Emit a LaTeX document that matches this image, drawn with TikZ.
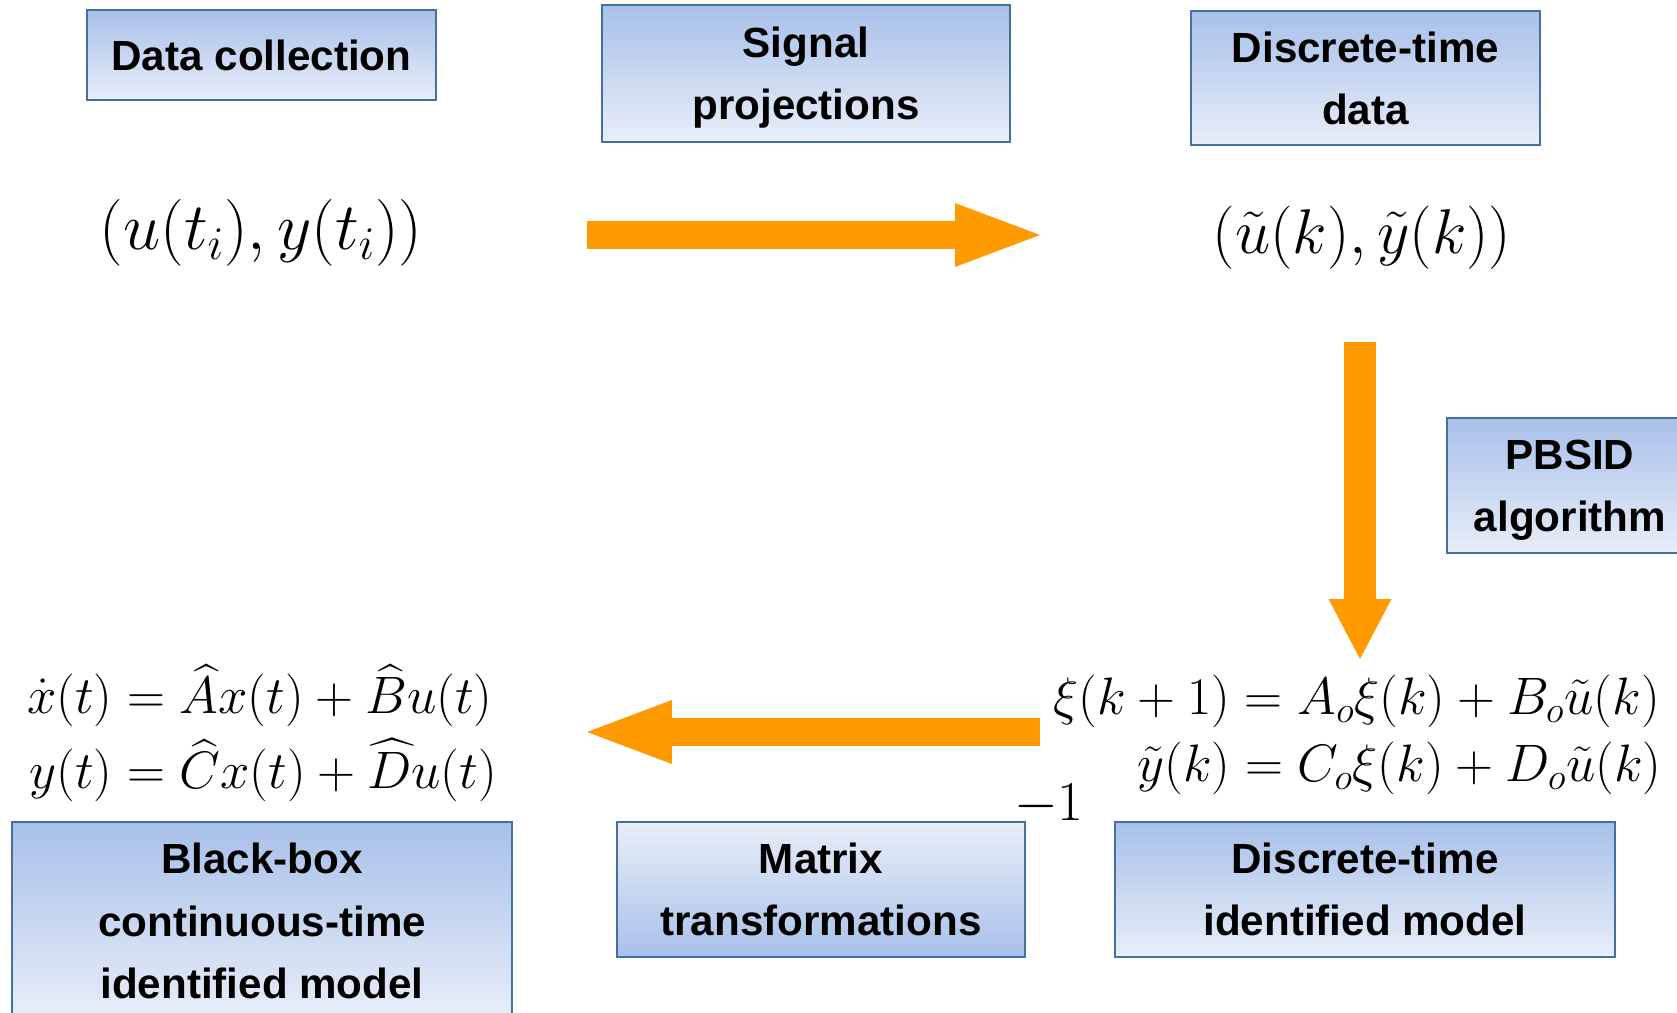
\RequirePackage{fix-cm}
\documentclass[tikz,border=0pt]{standalone}
\usepackage{amsmath}
\usepackage{fontspec}
\newfontfamily\boxfont{Liberation Sans}
\usepackage{tikz}
\usetikzlibrary{arrows.meta}
\definecolor{boxline}{HTML}{41719C}
\definecolor{boxtop}{HTML}{A8C0E9}
\definecolor{boxbot}{HTML}{E8EEF9}
\definecolor{flow}{HTML}{FF9A00}
\tikzset{box/.style={draw=boxline,line width=1.1pt,top color=boxtop,bottom color=boxbot,
    inner sep=0pt,align=center,text depth=0pt,font=\boxfont\bfseries\fontsize{24}{35.5}\selectfont},
  flipbox/.style={box,top color=boxbot,bottom color=boxtop},
  eq/.style={inner sep=0pt,font=\fontsize{30}{35}\selectfont},
  tup/.style={inner sep=0pt,font=\fontsize{38}{44}\selectfont},
  bigarrow/.style={draw=flow,line width=.56cm,-{Triangle[length=1.7cm,width=1.28cm,line width=0pt]}}}

\begin{document}
\begin{tikzpicture}[x=.02cm,y=-.02cm]
\clip (0,0) rectangle (1677,1013);
% boxes
\node[box,minimum width=6.98cm,minimum height=1.8cm] (collect) at (261.5,55) {Data collection};
\node[box,minimum width=8.16cm,minimum height=2.74cm] (proj) at (806,73.5) {Signal\\projections};
\node[box,minimum width=6.98cm,minimum height=2.68cm] (dtdata) at (1365.5,78) {Discrete-time\\data};
\node[box,minimum width=4.92cm,minimum height=2.7cm] (pbsid) at (1570,485.5) {PBSID\\algorithm};
\node[box,minimum width=10cm,minimum height=3.96cm] (ctmodel) at (262,921) {Black-box\\continuous-time\\identified model};
\node[flipbox,minimum width=8.16cm,minimum height=2.7cm] (matrix) at (821,889.5) {Matrix\\transformations};
\node[box,minimum width=10cm,minimum height=2.7cm] (dtmodel) at (1365,889.5) {Discrete-time\\identified model};
% data and models
\node[tup] (uy) at (261,233) {$(u(t_i),y(t_i))$};
\node[tup,font=\fontsize{36}{42}\selectfont] (uyk) at (1362,238) {$(\tilde u(k),\tilde y(k))$};
\node[eq,anchor=west] (cteq) at (27,736) {$\begin{aligned}\dot x(t)&=\widehat{A}x(t)+\widehat{B}u(t)\\
  y(t)&=\widehat{C}x(t)+\widehat{D}u(t)\end{aligned}$};
\node[eq,anchor=east] (dteq) at (1662,736) {$\begin{aligned}\xi(k+1)&=A_o\xi(k)+B_o\tilde u(k)\\
  \tilde y(k)&=C_o\xi(k)+D_o\tilde u(k)\end{aligned}$};
\node[tup,font=\fontsize{32}{38}\selectfont] (inv) at (1049,805) {$-1$};
% flow
\coordinate (r0) at (587,235); \coordinate (r1) at (1040,235);
\coordinate (d0) at (1360,342); \coordinate (d1) at (1360,659);
\coordinate (l0) at (1040,732); \coordinate (l1) at (587,732);
\draw[bigarrow] (r0) -- (r1);
\draw[bigarrow,line width=.64cm,-{Triangle[length=1.2cm,width=1.26cm,line width=0pt]}] (d0) -- (d1);
\draw[bigarrow] (l0) -- (l1);
\end{tikzpicture}
\end{document}
